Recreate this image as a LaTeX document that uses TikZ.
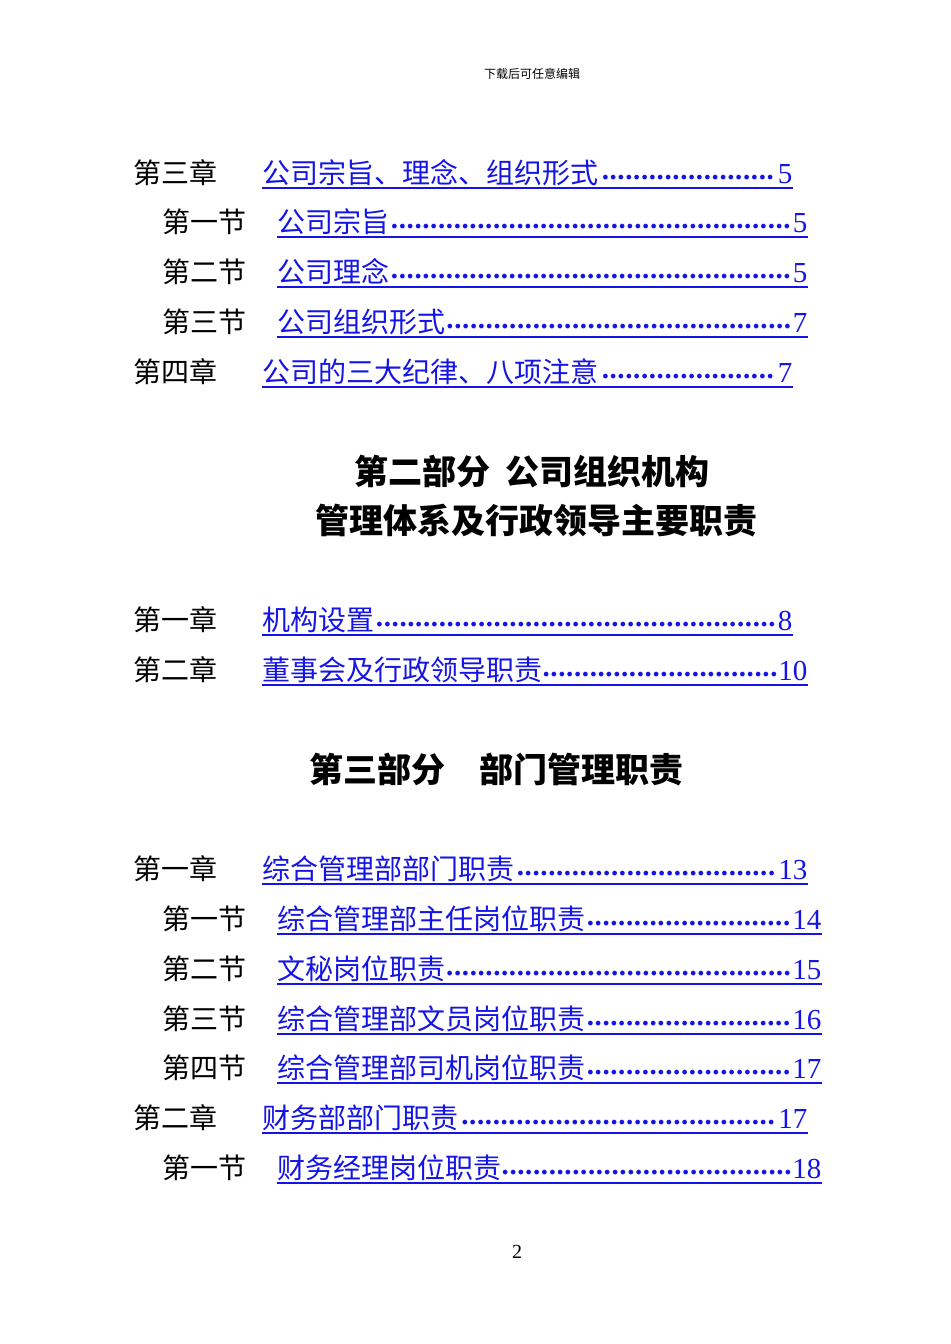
\documentclass[tikz,border=0pt]{standalone}
\usepackage{fontspec}
\setmainfont{Liberation Serif}
\newfontfamily\cjk{Noto Sans CJK SC}
\definecolor{lnk}{RGB}{20,20,230}
\newcommand{\myleaders}{\cleaders\hbox{\raisebox{0.3ex}{\bfseries .}\kern0.3pt}\hfill}
% \tocl{name}{y}{labelx}{label}{linkx}{endx}{title}{num}
\newcommand{\tocl}[8]{%
  \node[anchor=west,inner sep=0pt,font=\fontsize{14}{16}\selectfont\cjk] (#1l) at (#3,-#2) {#4};
  \pgfmathsetmacro{\w}{(#6-#5)/2}%
  \node[anchor=west,inner sep=0pt,text=lnk,font=\fontsize{14}{16}\selectfont\cjk] (#1) at (#5,-#2)
     {\makebox[\w pt][s]{#7\kern0pt\fontspec{Liberation Serif}\fontsize{14.5}{16}\selectfont\myleaders#8}};
  \draw[lnk,line width=0.7pt] ([yshift=-7.5pt]#1.west) -- ([yshift=-7.5pt]#1.east);
}
\begin{document}
\begin{tikzpicture}[x=0.5pt,y=0.5pt]
\useasboundingbox[fill=white] (0,0) rectangle (950,-1344);
\node[font=\fontsize{6}{7}\selectfont\cjk] (hdr) at (532,-74) {下载后可任意编辑};
\tocl{a1}{173}{133}{第三章}{262}{792}{公司宗旨、理念、组织形式}{5}
\tocl{a2}{222}{162}{第一节}{277}{807}{公司宗旨}{5}
\tocl{a3}{272}{162}{第二节}{277}{807}{公司理念}{5}
\tocl{a4}{322}{162}{第三节}{277}{807}{公司组织形式}{7}
\tocl{a5}{372}{133}{第四章}{262}{792}{公司的三大纪律、八项注意}{7}
\node[font=\fontsize{17}{20}\selectfont\cjk\bfseries] (h1) at (532,-471) {第二部分\ \ 公司组织机构};
\node[font=\fontsize{17}{20}\selectfont\cjk\bfseries] (h2) at (536,-521) {管理体系及行政领导主要职责};
\tocl{b1}{620}{133}{第一章}{262}{792}{机构设置}{8}
\tocl{b2}{670}{133}{第二章}{262}{807}{董事会及行政领导职责}{10}
\node[font=\fontsize{17}{20}\selectfont\cjk\bfseries] (h3) at (496,-770) {第三部分\quad 部门管理职责};
\tocl{c1}{869}{133}{第一章}{262}{807}{综合管理部部门职责}{13}
\tocl{c2}{919}{162}{第一节}{277}{821}{综合管理部主任岗位职责}{14}
\tocl{c3}{969}{162}{第二节}{277}{821}{文秘岗位职责}{15}
\tocl{c4}{1019}{162}{第三节}{277}{821}{综合管理部文员岗位职责}{16}
\tocl{c5}{1068}{162}{第四节}{277}{821}{综合管理部司机岗位职责}{17}
\tocl{c6}{1118}{133}{第二章}{262}{807}{财务部部门职责}{17}
\tocl{c7}{1168}{162}{第一节}{277}{821}{财务经理岗位职责}{18}
\node[font=\fontsize{10}{12}\selectfont] (pg) at (517,-1252) {2};
\end{tikzpicture}
\end{document}
